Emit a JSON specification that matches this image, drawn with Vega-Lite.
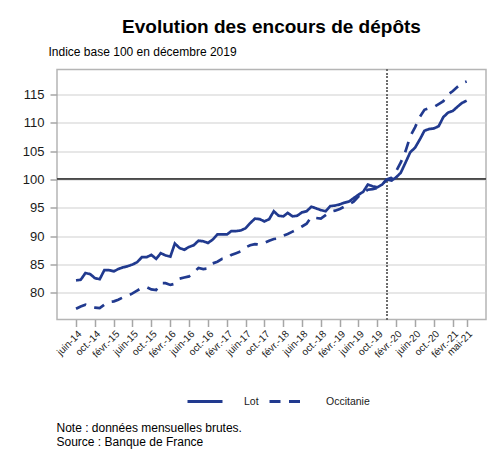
{
  "$schema": "https://vega.github.io/schema/vega-lite/v6.json",
  "autosize": {"type": "none"},
  "width": 429,
  "height": 250,
  "padding": {"left": 57, "top": 69.5, "right": 6, "bottom": 136.5},
  "background": "white",
  "title": {"text": "Evolution des encours de dépôts", "fontSize": 19, "fontWeight": "bold", "color": "black", "anchor": "middle", "offset": 8},
  "data": {"values": [
    {"date": "2014-06", "Lot": 82.2, "Occitanie": 77.2},
    {"date": "2014-07", "Lot": 82.3, "Occitanie": 77.6},
    {"date": "2014-08", "Lot": 83.5, "Occitanie": 77.9},
    {"date": "2014-09", "Lot": 83.3, "Occitanie": 77.5},
    {"date": "2014-10", "Lot": 82.6, "Occitanie": 77.4},
    {"date": "2014-11", "Lot": 82.4, "Occitanie": 77.3},
    {"date": "2014-12", "Lot": 84.0, "Occitanie": 77.9},
    {"date": "2015-01", "Lot": 84.0, "Occitanie": 78.4},
    {"date": "2015-02", "Lot": 83.8, "Occitanie": 78.5},
    {"date": "2015-03", "Lot": 84.2, "Occitanie": 78.8},
    {"date": "2015-04", "Lot": 84.5, "Occitanie": 79.2},
    {"date": "2015-05", "Lot": 84.7, "Occitanie": 79.5},
    {"date": "2015-06", "Lot": 85.0, "Occitanie": 79.9},
    {"date": "2015-07", "Lot": 85.4, "Occitanie": 80.4},
    {"date": "2015-08", "Lot": 86.3, "Occitanie": 80.9},
    {"date": "2015-09", "Lot": 86.3, "Occitanie": 81.0},
    {"date": "2015-10", "Lot": 86.7, "Occitanie": 80.6},
    {"date": "2015-11", "Lot": 86.0, "Occitanie": 80.5},
    {"date": "2015-12", "Lot": 87.0, "Occitanie": 81.7},
    {"date": "2016-01", "Lot": 86.6, "Occitanie": 81.7},
    {"date": "2016-02", "Lot": 86.4, "Occitanie": 81.4},
    {"date": "2016-03", "Lot": 88.7, "Occitanie": 81.6},
    {"date": "2016-04", "Lot": 87.9, "Occitanie": 82.5},
    {"date": "2016-05", "Lot": 87.6, "Occitanie": 82.7},
    {"date": "2016-06", "Lot": 88.1, "Occitanie": 82.9},
    {"date": "2016-07", "Lot": 88.4, "Occitanie": 83.6},
    {"date": "2016-08", "Lot": 89.2, "Occitanie": 84.4},
    {"date": "2016-09", "Lot": 89.1, "Occitanie": 84.2},
    {"date": "2016-10", "Lot": 88.8, "Occitanie": 84.3},
    {"date": "2016-11", "Lot": 89.4, "Occitanie": 85.2},
    {"date": "2016-12", "Lot": 90.3, "Occitanie": 85.5},
    {"date": "2017-01", "Lot": 90.3, "Occitanie": 86.0},
    {"date": "2017-02", "Lot": 90.3, "Occitanie": 86.1},
    {"date": "2017-03", "Lot": 90.9, "Occitanie": 86.7},
    {"date": "2017-04", "Lot": 90.9, "Occitanie": 87.0},
    {"date": "2017-05", "Lot": 91.0, "Occitanie": 87.3},
    {"date": "2017-06", "Lot": 91.4, "Occitanie": 88.0},
    {"date": "2017-07", "Lot": 92.3, "Occitanie": 88.4},
    {"date": "2017-08", "Lot": 93.1, "Occitanie": 88.6},
    {"date": "2017-09", "Lot": 93.0, "Occitanie": 88.5},
    {"date": "2017-10", "Lot": 92.6, "Occitanie": 88.8},
    {"date": "2017-11", "Lot": 93.0, "Occitanie": 89.2},
    {"date": "2017-12", "Lot": 94.4, "Occitanie": 89.5},
    {"date": "2018-01", "Lot": 93.6, "Occitanie": 89.6},
    {"date": "2018-02", "Lot": 93.5, "Occitanie": 90.1},
    {"date": "2018-03", "Lot": 94.1, "Occitanie": 90.4},
    {"date": "2018-04", "Lot": 93.5, "Occitanie": 90.8},
    {"date": "2018-05", "Lot": 93.6, "Occitanie": 91.2},
    {"date": "2018-06", "Lot": 94.2, "Occitanie": 91.7},
    {"date": "2018-07", "Lot": 94.4, "Occitanie": 92.2},
    {"date": "2018-08", "Lot": 95.2, "Occitanie": 93.4},
    {"date": "2018-09", "Lot": 94.9, "Occitanie": 93.2},
    {"date": "2018-10", "Lot": 94.6, "Occitanie": 93.1},
    {"date": "2018-11", "Lot": 94.4, "Occitanie": 93.7},
    {"date": "2018-12", "Lot": 95.3, "Occitanie": 94.3},
    {"date": "2019-01", "Lot": 95.4, "Occitanie": 94.5},
    {"date": "2019-02", "Lot": 95.6, "Occitanie": 94.8},
    {"date": "2019-03", "Lot": 95.9, "Occitanie": 95.2},
    {"date": "2019-04", "Lot": 96.1, "Occitanie": 95.6},
    {"date": "2019-05", "Lot": 96.7, "Occitanie": 96.1},
    {"date": "2019-06", "Lot": 97.3, "Occitanie": 97.0},
    {"date": "2019-07", "Lot": 97.8, "Occitanie": 97.6},
    {"date": "2019-08", "Lot": 99.1, "Occitanie": 98.2},
    {"date": "2019-09", "Lot": 98.8, "Occitanie": 98.3},
    {"date": "2019-10", "Lot": 98.6, "Occitanie": 98.5},
    {"date": "2019-11", "Lot": 99.1, "Occitanie": 99.1},
    {"date": "2019-12", "Lot": 100.0, "Occitanie": 100.0},
    {"date": "2020-01", "Lot": 99.8, "Occitanie": 100.3},
    {"date": "2020-02", "Lot": 100.4, "Occitanie": 101.5},
    {"date": "2020-03", "Lot": 101.2, "Occitanie": 103.0},
    {"date": "2020-04", "Lot": 103.0, "Occitanie": 105.0},
    {"date": "2020-05", "Lot": 104.8, "Occitanie": 107.6},
    {"date": "2020-06", "Lot": 105.6, "Occitanie": 109.2},
    {"date": "2020-07", "Lot": 107.0, "Occitanie": 111.0},
    {"date": "2020-08", "Lot": 108.6, "Occitanie": 112.3},
    {"date": "2020-09", "Lot": 108.9, "Occitanie": 112.6},
    {"date": "2020-10", "Lot": 109.0, "Occitanie": 112.8},
    {"date": "2020-11", "Lot": 109.4, "Occitanie": 113.3},
    {"date": "2020-12", "Lot": 111.0, "Occitanie": 113.8},
    {"date": "2021-01", "Lot": 111.8, "Occitanie": 115.0},
    {"date": "2021-02", "Lot": 112.1, "Occitanie": 115.6},
    {"date": "2021-03", "Lot": 112.8, "Occitanie": 116.3},
    {"date": "2021-04", "Lot": 113.5, "Occitanie": 117.0},
    {"date": "2021-05", "Lot": 113.9, "Occitanie": 117.3}
  ]},
  "layer": [
    {
      "mark": {"type": "rule", "color": "#5a5a5a", "strokeWidth": 1},
      "encoding": {"y": {"datum": 100, "type": "quantitative"}}
    },
    {
      "mark": {"type": "rule", "color": "#6e6e6e", "strokeWidth": 1, "strokeDash": [1.5, 2]},
      "encoding": {"x": {"datum": {"year": 2019, "month": 12, "date": 1, "utc": true}, "type": "temporal"}}
    },
    {
      "transform": [{"fold": ["Lot", "Occitanie"], "as": ["serie", "value"]}],
      "mark": {"type": "line", "color": "#213a8f", "strokeWidth": 2.7, "interpolate": "linear"},
      "encoding": {
        "x": {
          "field": "date", "type": "temporal",
          "scale": {"type": "utc", "domain": [{"year": 2014, "month": 1, "date": 29, "utc": true}, {"year": 2021, "month": 9, "date": 3, "utc": true}]},
          "axis": {
            "values": [
              {"year": 2014, "month": 6, "date": 1, "utc": true},
              {"year": 2014, "month": 10, "date": 1, "utc": true},
              {"year": 2015, "month": 2, "date": 1, "utc": true},
              {"year": 2015, "month": 6, "date": 1, "utc": true},
              {"year": 2015, "month": 10, "date": 1, "utc": true},
              {"year": 2016, "month": 2, "date": 1, "utc": true},
              {"year": 2016, "month": 6, "date": 1, "utc": true},
              {"year": 2016, "month": 10, "date": 1, "utc": true},
              {"year": 2017, "month": 2, "date": 1, "utc": true},
              {"year": 2017, "month": 6, "date": 1, "utc": true},
              {"year": 2017, "month": 10, "date": 1, "utc": true},
              {"year": 2018, "month": 2, "date": 1, "utc": true},
              {"year": 2018, "month": 6, "date": 1, "utc": true},
              {"year": 2018, "month": 10, "date": 1, "utc": true},
              {"year": 2019, "month": 2, "date": 1, "utc": true},
              {"year": 2019, "month": 6, "date": 1, "utc": true},
              {"year": 2019, "month": 10, "date": 1, "utc": true},
              {"year": 2020, "month": 2, "date": 1, "utc": true},
              {"year": 2020, "month": 6, "date": 1, "utc": true},
              {"year": 2020, "month": 10, "date": 1, "utc": true},
              {"year": 2021, "month": 2, "date": 1, "utc": true},
              {"year": 2021, "month": 5, "date": 1, "utc": true}
            ],
            "labelExpr": "['janv.','févr.','mars','avr.','mai','juin','juil.','août','sept.','oct.','nov.','déc.'][utcmonth(datum.value)] + '-' + utcFormat(datum.value, '%y')",
            "labelAngle": -45,
            "labelFontSize": 10,
            "labelColor": "#1a1a1a",
            "labelPadding": 2,
            "labelOverlap": false,
            "labelBound": false,
            "labelFlush": false,
            "domain": false,
            "grid": false,
            "tickCount": 30,
            "tickColor": "#a6a6a6",
            "tickWidth": 1.5,
            "tickSize": 7,
            "title": ["Note : données mensuelles brutes.", "Source : Banque de France"],
            "titleFontSize": 12,
            "titleFontWeight": "normal",
            "titleColor": "black",
            "titleAlign": "left",
            "titleAnchor": "start",
            "titleBaseline": "alphabetic",
            "titleLineHeight": 14,
            "titleX": -1,
            "titleY": 111.5
          }
        },
        "y": {
          "field": "value", "type": "quantitative",
          "scale": {"domain": [75.3, 119.4], "nice": false, "zero": false},
          "axis": {
            "values": [80, 85, 90, 95, 100, 105, 110, 115],
            "labelFontSize": 13,
            "labelColor": "#1a1a1a",
            "labelPadding": 6,
            "labelOverlap": false,
            "domain": false,
            "grid": true,
            "gridColor": "#cfcfcf",
            "gridWidth": 1,
            "tickCount": 30,
            "tickColor": "#a6a6a6",
            "tickWidth": 1.5,
            "tickSize": 7,
            "title": "Indice base 100 en décembre 2019",
            "titleFontSize": 12,
            "titleFontWeight": "normal",
            "titleColor": "black",
            "titleAngle": 0,
            "titleAlign": "left",
            "titleAnchor": "start",
            "titleBaseline": "alphabetic",
            "titleX": -9,
            "titleY": -14.5
          }
        },
        "strokeDash": {
          "field": "serie", "type": "nominal",
          "scale": {"domain": ["Lot", "Occitanie"], "range": [[1, 0], [11, 8.5]]},
          "legend": {
            "title": null,
            "orient": "none",
            "direction": "horizontal",
            "legendX": 129,
            "legendY": 313,
            "padding": 0,
            "symbolType": "stroke",
            "symbolSize": 1225,
            "symbolStrokeWidth": 3,
            "symbolStrokeColor": "#213a8f",
            "labelFontSize": 10.5,
            "labelColor": "#1a1a1a",
            "labelOffset": 20,
            "columnPadding": 4
          }
        }
      }
    }
  ],
  "config": {
    "font": "Liberation Sans",
    "axis": {"labelOverlap": false, "tickCount": 30},
    "view": {"stroke": "#b5b5b5", "strokeWidth": 1.5}
  }
}
